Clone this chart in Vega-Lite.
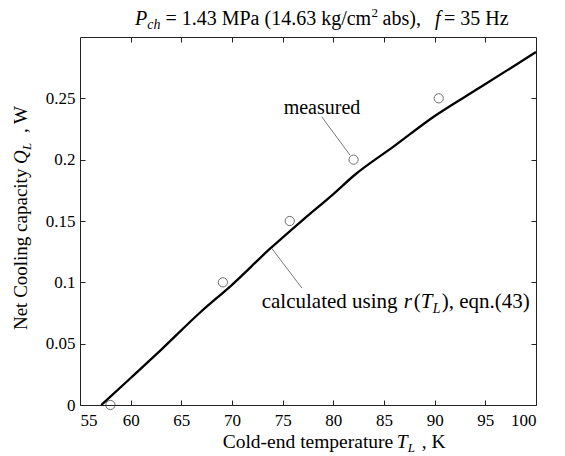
{
  "$schema": "https://vega.github.io/schema/vega-lite/v6.json",
  "width": 456,
  "height": 368,
  "autosize": {"type": "none"},
  "padding": {"left": 80, "top": 37, "right": 29, "bottom": 51},
  "config": {
    "font": "Liberation Serif",
    "view": {"stroke": "#222", "strokeWidth": 1},
    "axis": {"labelFont": "Liberation Serif", "labelFontSize": 17, "labelColor": "#000", "tickColor": "#222", "tickSize": -5, "tickWidth": 1, "domain": false, "grid": false},
    "text": {"font": "Liberation Serif", "fontSize": 20, "color": "#000", "align": "left", "baseline": "alphabetic"}
  },
  "resolve": {"axis": {"x": "independent", "y": "independent"}},
  "encoding": {
    "x": {"field": "x", "type": "quantitative", "scale": {"domain": [55, 100], "nice": false, "zero": false}, "axis": null},
    "y": {"field": "y", "type": "quantitative", "scale": {"domain": [0, 0.3], "nice": false, "zero": false}, "axis": null}
  },
  "layer": [
    {
      "data": {"values": [
        {"x": 57.1, "y": 0}, {"x": 60, "y": 0.022}, {"x": 63, "y": 0.045}, {"x": 66.8, "y": 0.075},
        {"x": 70, "y": 0.098}, {"x": 73.7, "y": 0.127}, {"x": 77, "y": 0.151}, {"x": 80, "y": 0.172},
        {"x": 82.1, "y": 0.1875}, {"x": 86, "y": 0.211}, {"x": 89.9, "y": 0.235}, {"x": 94.5, "y": 0.259},
        {"x": 100, "y": 0.2877}
      ]},
      "mark": {"type": "line", "color": "#000", "strokeWidth": 2.3, "interpolate": "monotone"},
      "encoding": {
        "x": {"field": "x", "type": "quantitative", "scale": {"domain": [55, 100], "nice": false, "zero": false},
              "axis": {"orient": "bottom", "title": null, "values": [55, 60, 65, 70, 75, 80, 85, 90, 95, 100], "format": "d", "labelPadding": 12, "labelFont": "Liberation Serif", "labelFontSize": 17}},
        "y": {"field": "y", "type": "quantitative", "scale": {"domain": [0, 0.3], "nice": false, "zero": false},
              "axis": {"orient": "left", "title": null, "values": [0, 0.05, 0.1, 0.15, 0.2, 0.25], "format": "~g", "labelPadding": 10, "labelFont": "Liberation Serif", "labelFontSize": 17}}
      }
    },
    {
      "data": {"values": [
        {"x": 58.0, "y": 0}, {"x": 69.1, "y": 0.1}, {"x": 75.7, "y": 0.15}, {"x": 82.0, "y": 0.2}, {"x": 90.4, "y": 0.25}
      ]},
      "mark": {"type": "point", "shape": "circle", "filled": false, "stroke": "#333", "strokeWidth": 1, "size": 85},
      "encoding": {
        "x": {"field": "x", "type": "quantitative", "scale": {"domain": [55, 100], "nice": false, "zero": false},
              "axis": {"orient": "top", "title": null, "labels": false, "values": [60, 65, 70, 75, 80, 85, 90, 95]}},
        "y": {"field": "y", "type": "quantitative", "scale": {"domain": [0, 0.3], "nice": false, "zero": false},
              "axis": {"orient": "right", "title": null, "labels": false, "values": [0.05, 0.1, 0.15, 0.2, 0.25]}}
      }
    },
    {
      "data": {"values": [
        {"x": 78.85, "y": 0.235, "x2": 81.64, "y2": 0.2038},
        {"x": 73.92, "y": 0.1277, "x2": 76.9, "y2": 0.0953}
      ]},
      "mark": {"type": "rule", "color": "#555", "strokeWidth": 0.8},
      "encoding": {"x2": {"field": "x2"}, "y2": {"field": "y2"}}
    },
    {"data": {"values": [{"x": 78.88, "y": 0.2372, "label": "measured"}]},
     "mark": {"type": "text", "align": "center"}, "encoding": {"text": {"field": "label"}}},

    {"data": {"values": [{"x": 72.93, "y": 0.0791, "label": "calculated using"}]},
     "mark": {"type": "text", "fontSize": 21}, "encoding": {"text": {"field": "label"}}},
    {"data": {"values": [{"x": 72.93, "y": 0.0791, "label": "r"}]},
     "mark": {"type": "text", "fontSize": 21, "fontStyle": "italic", "dx": 142}, "encoding": {"text": {"field": "label"}}},
    {"data": {"values": [{"x": 72.93, "y": 0.0791, "label": "("}]},
     "mark": {"type": "text", "fontSize": 21, "dx": 152}, "encoding": {"text": {"field": "label"}}},
    {"data": {"values": [{"x": 72.93, "y": 0.0791, "label": "T"}]},
     "mark": {"type": "text", "fontSize": 21, "fontStyle": "italic", "dx": 159}, "encoding": {"text": {"field": "label"}}},
    {"data": {"values": [{"x": 72.93, "y": 0.0791, "label": "L"}]},
     "mark": {"type": "text", "fontSize": 14, "fontStyle": "italic", "dx": 171, "dy": 5}, "encoding": {"text": {"field": "label"}}},
    {"data": {"values": [{"x": 72.93, "y": 0.0791, "label": "), eqn.(43)"}]},
     "mark": {"type": "text", "fontSize": 21, "dx": 180}, "encoding": {"text": {"field": "label"}}},

    {"data": {"values": [{"x": 60.43, "y": 0.3, "label": "P"}]},
     "mark": {"type": "text", "fontStyle": "italic", "dy": -12}, "encoding": {"text": {"field": "label"}}},
    {"data": {"values": [{"x": 60.43, "y": 0.3, "label": "ch"}]},
     "mark": {"type": "text", "fontStyle": "italic", "fontSize": 14, "dx": 12.2, "dy": -8}, "encoding": {"text": {"field": "label"}}},
    {"data": {"values": [{"x": 60.43, "y": 0.3, "label": "= 1.43 MPa (14.63 kg/cm"}]},
     "mark": {"type": "text", "dx": 30.4, "dy": -12}, "encoding": {"text": {"field": "label"}}},
    {"data": {"values": [{"x": 60.43, "y": 0.3, "label": "2"}]},
     "mark": {"type": "text", "fontSize": 13, "dx": 236.5, "dy": -20}, "encoding": {"text": {"field": "label"}}},
    {"data": {"values": [{"x": 60.43, "y": 0.3, "label": "abs),"}]},
     "mark": {"type": "text", "dx": 247.6, "dy": -12}, "encoding": {"text": {"field": "label"}}},
    {"data": {"values": [{"x": 60.43, "y": 0.3, "label": "f"}]},
     "mark": {"type": "text", "fontStyle": "italic", "dx": 300, "dy": -12}, "encoding": {"text": {"field": "label"}}},
    {"data": {"values": [{"x": 60.43, "y": 0.3, "label": "= 35 Hz"}]},
     "mark": {"type": "text", "dx": 309, "dy": -12}, "encoding": {"text": {"field": "label"}}},

    {"data": {"values": [{"x": 69.08, "y": 0, "label": "Cold-end temperature"}]},
     "mark": {"type": "text", "fontSize": 19.5, "dy": 43}, "encoding": {"text": {"field": "label"}}},
    {"data": {"values": [{"x": 69.08, "y": 0, "label": "T"}]},
     "mark": {"type": "text", "fontSize": 19.5, "fontStyle": "italic", "dx": 174, "dy": 43}, "encoding": {"text": {"field": "label"}}},
    {"data": {"values": [{"x": 69.08, "y": 0, "label": "L"}]},
     "mark": {"type": "text", "fontSize": 13, "fontStyle": "italic", "dx": 185, "dy": 47}, "encoding": {"text": {"field": "label"}}},
    {"data": {"values": [{"x": 69.08, "y": 0, "label": ", K"}]},
     "mark": {"type": "text", "fontSize": 19.5, "dx": 199, "dy": 43}, "encoding": {"text": {"field": "label"}}},

    {"data": {"values": [{"x": 55, "y": 0.0611, "label": "Net Cooling capacity"}]},
     "mark": {"type": "text", "fontSize": 19, "angle": 270, "dy": -53}, "encoding": {"text": {"field": "label"}}},
    {"data": {"values": [{"x": 55, "y": 0.0611, "label": "Q"}]},
     "mark": {"type": "text", "fontSize": 19, "fontStyle": "italic", "angle": 270, "dx": 166, "dy": -53}, "encoding": {"text": {"field": "label"}}},
    {"data": {"values": [{"x": 55, "y": 0.0611, "label": "L"}]},
     "mark": {"type": "text", "fontSize": 13, "fontStyle": "italic", "angle": 270, "dx": 180, "dy": -49}, "encoding": {"text": {"field": "label"}}},
    {"data": {"values": [{"x": 55, "y": 0.0611, "label": ", W"}]},
     "mark": {"type": "text", "fontSize": 19, "angle": 270, "dx": 197, "dy": -53}, "encoding": {"text": {"field": "label"}}}
  ]
}
